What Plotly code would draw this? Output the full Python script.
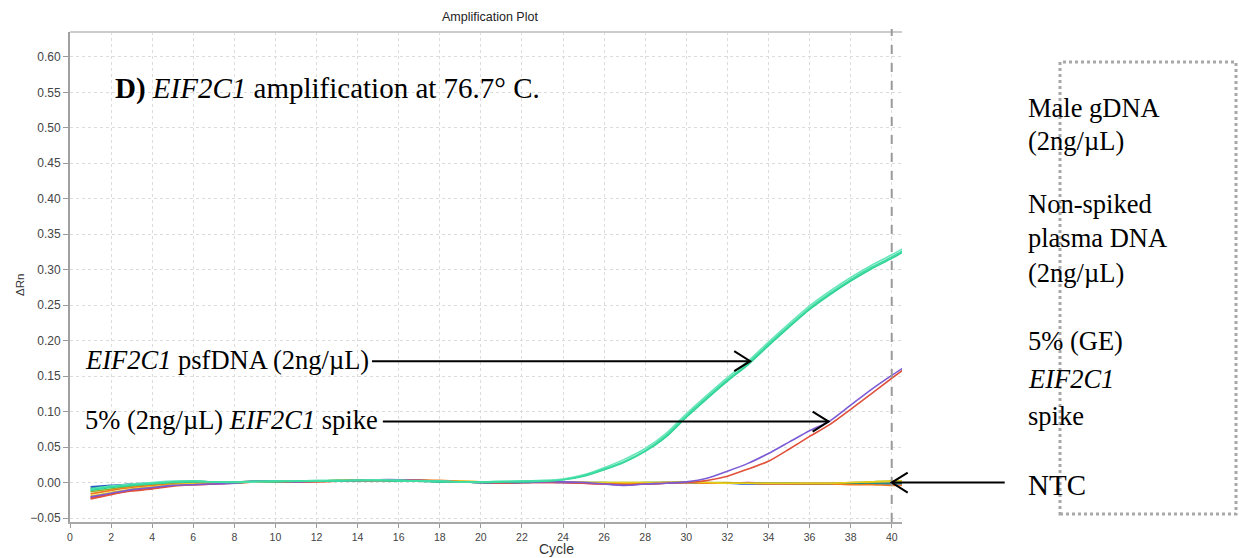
import numpy as np
import plotly.graph_objects as go

# ---- data: ΔRn per cycle (cycle 41 only trails past the right edge) ----
cycles = list(range(1, 42))

psfdna_rep1 = [-0.010, -0.006, -0.003, -0.001, 0.001, 0.002, 0.001, 0.001, 0.002, 0.002,
               0.002, 0.002, 0.003, 0.003, 0.003, 0.003, 0.002, 0.002, 0.001, 0.001,
               0.001, 0.002, 0.002, 0.004, 0.010, 0.019, 0.030, 0.045, 0.066, 0.094,
               0.120, 0.145, 0.168, 0.195, 0.221, 0.246, 0.267, 0.286, 0.303, 0.318, 0.334]
psfdna_rep2 = [-0.009, -0.005, -0.002, 0.000, 0.002, 0.002, 0.001, 0.001, 0.001, 0.002,
               0.002, 0.003, 0.003, 0.003, 0.004, 0.003, 0.002, 0.002, 0.001, 0.001,
               0.002, 0.002, 0.003, 0.005, 0.011, 0.021, 0.033, 0.048, 0.069, 0.097,
               0.123, 0.148, 0.171, 0.198, 0.224, 0.249, 0.270, 0.289, 0.306, 0.321, 0.337]
psfdna_rep3 = [-0.011, -0.007, -0.004, -0.002, 0.000, 0.001, 0.001, 0.000, 0.001, 0.001,
               0.002, 0.002, 0.002, 0.003, 0.003, 0.002, 0.002, 0.001, 0.001, 0.000,
               0.001, 0.001, 0.002, 0.004, 0.009, 0.018, 0.029, 0.044, 0.064, 0.092,
               0.118, 0.143, 0.166, 0.193, 0.219, 0.244, 0.265, 0.284, 0.301, 0.316, 0.332]

spike_rep1 = [-0.020, -0.015, -0.010, -0.007, -0.004, -0.003, -0.002, -0.001, 0.002, 0.002,
              0.001, 0.002, 0.002, 0.003, 0.004, 0.004, 0.003, 0.002, 0.001, 0.000,
              0.000, 0.000, 0.001, 0.001, 0.000, -0.002, -0.004, -0.002, -0.001, 0.001,
              0.006, 0.016, 0.027, 0.041, 0.057, 0.073, 0.087, 0.109, 0.131, 0.151, 0.170]
spike_rep2 = [-0.023, -0.017, -0.012, -0.009, -0.005, -0.003, -0.002, -0.001, 0.001, 0.001,
              0.001, 0.001, 0.002, 0.003, 0.003, 0.003, 0.003, 0.002, 0.001, 0.000,
              -0.001, 0.000, 0.000, 0.000, -0.001, -0.002, -0.003, -0.002, -0.001, 0.000,
              0.003, 0.009, 0.019, 0.030, 0.047, 0.065, 0.082, 0.103, 0.125, 0.147, 0.168]

flat_blue = [-0.006, -0.004, -0.002, -0.001, 0.000, 0.001, 0.001, 0.001, 0.001, 0.001,
             0.001, 0.002, 0.002, 0.003, 0.003, 0.003, 0.002, 0.002, 0.001, 0.000,
             0.000, 0.001, 0.001, 0.000, 0.000, -0.001, -0.001, -0.001, 0.000, 0.000,
             -0.001, -0.001, -0.002, -0.002, -0.002, -0.002, -0.002, -0.002, -0.002, -0.002, -0.002]
flat_teal = [-0.008, -0.005, -0.003, -0.001, 0.001, 0.002, 0.001, 0.001, 0.001, 0.001,
             0.002, 0.002, 0.002, 0.003, 0.003, 0.002, 0.002, 0.001, 0.001, 0.000,
             0.000, 0.000, 0.001, 0.001, 0.000, 0.000, -0.001, 0.000, 0.000, 0.000,
             -0.001, -0.001, -0.001, -0.001, -0.001, -0.002, -0.002, -0.002, -0.001, -0.001, -0.001]
flat_olive = [-0.013, -0.009, -0.005, -0.003, -0.001, 0.001, 0.000, 0.000, 0.001, 0.001,
              0.001, 0.002, 0.003, 0.004, 0.004, 0.004, 0.003, 0.002, 0.001, 0.001,
              0.000, 0.001, 0.001, 0.001, 0.000, 0.000, 0.000, 0.000, 0.000, 0.001,
              0.000, 0.000, -0.001, -0.001, -0.001, -0.001, -0.001, 0.000, 0.001, 0.002, 0.002]
flat_orange = [-0.016, -0.011, -0.007, -0.004, -0.002, -0.002, -0.001, 0.000, 0.001, 0.001,
               0.001, 0.002, 0.003, 0.004, 0.004, 0.004, 0.004, 0.003, 0.002, 0.001,
               0.000, 0.000, 0.001, 0.001, 0.000, -0.001, -0.001, -0.001, 0.000, 0.000,
               -0.001, -0.001, -0.001, -0.002, -0.002, -0.002, -0.002, -0.003, -0.003, -0.004, -0.004]
flat_yellow = [-0.019, -0.014, -0.009, -0.006, -0.003, -0.002, -0.001, 0.000, 0.001, 0.001,
               0.001, 0.002, 0.002, 0.003, 0.003, 0.003, 0.003, 0.002, 0.002, 0.001,
               0.000, 0.001, 0.001, 0.001, 0.000, 0.000, 0.000, 0.000, 0.000, 0.000,
               0.000, -0.001, -0.001, -0.001, -0.001, -0.001, -0.001, 0.000, 0.001, 0.002, 0.002]
flat_magenta = [-0.021, -0.016, -0.011, -0.008, -0.004, -0.003, -0.002, 0.000, 0.002, 0.002,
                0.002, 0.002, 0.002, 0.002, 0.003, 0.003, 0.002, 0.002, 0.001, 0.000,
                -0.001, 0.000, 0.000, 0.000, -0.001, -0.002, -0.003, -0.002, -0.001, 0.000,
                0.000, -0.001, 0.000, -0.001, -0.001, -0.001, -0.001, -0.001, -0.001, -0.001, -0.001]

x_ticks = list(range(0, 41, 2))
y_ticks = [-0.05, 0.00, 0.05, 0.10, 0.15, 0.20, 0.25, 0.30, 0.35, 0.40, 0.45, 0.50, 0.55, 0.60]

# ---- geometry ----
W, H = 1239, 558
ML, MR, MT, MB = 70, 337, 32, 36
X_RANGE = [0, 40.5]
Y_RANGE = [-0.0556, 0.635]
PLOT_W = W - ML - MR
PLOT_H = H - MT - MB


def px(x):
    """page pixel column -> paper x"""
    return (x - ML) / PLOT_W


def py(y):
    """page pixel row -> paper y"""
    return (H - MB - y) / PLOT_H


def xp(c):
    """cycle -> paper x"""
    return (c - X_RANGE[0]) / (X_RANGE[1] - X_RANGE[0])


def yp(v):
    """ΔRn -> paper y"""
    return (v - Y_RANGE[0]) / (Y_RANGE[1] - Y_RANGE[0])


fig = go.Figure()

series = [
    (flat_magenta, "#c2267f"),
    (flat_blue, "#2458c8"),
    (flat_teal, "#1f8f8a"),
    (flat_olive, "#8fb021"),
    (flat_orange, "#f07b1d"),
    (flat_yellow, "#e6cf1c"),
    (spike_rep2, "#e0503a"),
    (spike_rep1, "#7b5bd6"),
    (psfdna_rep3, "#2ccf94"),
    (psfdna_rep2, "#6ae6bc"),
    (psfdna_rep1, "#3ddca0"),
]
for vals, col in series:
    fig.add_trace(go.Scatter(x=cycles, y=vals, mode="lines",
                             line=dict(color=col, width=1.6, shape="spline", smoothing=0.6),
                             showlegend=False, hoverinfo="skip"))

axis_font = "Liberation Sans, Arial, sans-serif"
serif = "Liberation Serif, Times New Roman, serif"

fig.update_xaxes(range=X_RANGE, tickvals=x_ticks, ticks="outside", ticklen=4,
                 tickcolor="#9a9a9a", tickwidth=1, showline=True, linecolor="#a8a8a8",
                 linewidth=2, showgrid=True, gridcolor="#dcdcdc", griddash="dot",
                 gridwidth=1, zeroline=False,
                 tickfont=dict(family=axis_font, size=10.5, color="#444"))
fig.update_yaxes(range=Y_RANGE, tickvals=y_ticks, tickformat=".2f", ticks="outside",
                 ticklen=5, tickcolor="#9a9a9a", tickwidth=1, showline=True,
                 linecolor="#a0a0a0", linewidth=2, showgrid=True, gridcolor="#dcdcdc",
                 griddash="dot", gridwidth=1, zeroline=False,
                 tickfont=dict(family=axis_font, size=12, color="#444"))

shapes = []
# top frame line
shapes.append(dict(type="line", xref="paper", yref="paper", x0=0, x1=1, y0=1, y1=1,
                   line=dict(color="#cccccc", width=2)))
# cycle 40 marker line
shapes.append(dict(type="line", xref="paper", yref="paper", x0=xp(40), x1=xp(40),
                   y0=0, y1=py(29), line=dict(color="#9a9a9a", width=2, dash="dash")))
# dotted key frame on the right
shapes.append(dict(type="rect", xref="paper", yref="paper", x0=px(1060), x1=px(1236),
                   y0=py(514), y1=py(62), line=dict(color="#a8a8a8", width=3, dash="dot")))

# pointer arrows: (level, tail cycle, head cycle, direction)
psf_level = 0.171
spike_level = 0.086
psf_head = float(np.interp(psf_level, psfdna_rep1[26:36], cycles[26:36]))
spike_head = float(np.interp(spike_level, spike_rep1[31:39], cycles[31:39]))
arrows = [
    (psf_level, 14.7, psf_head, 1),
    (spike_level, 15.23, spike_head, 1),
    (0.0, 45.5, 40.0, -1),
]
for level, tail, head, d in arrows:
    shapes.append(dict(type="line", xref="paper", yref="paper",
                       x0=xp(tail), x1=xp(head), y0=yp(level), y1=yp(level),
                       line=dict(color="black", width=2)))
    shapes.append(dict(type="path", xref="paper", yref="paper",
                       xsizemode="pixel", ysizemode="pixel",
                       xanchor=xp(head), yanchor=yp(level),
                       path=f"M{-16 * d},10 L0,0 L{-16 * d},-10",
                       line=dict(color="black", width=2)))

annotations = [
    dict(text="Amplification Plot", x=px(490), y=py(17), xanchor="center", yanchor="middle",
         font=dict(family=axis_font, size=12.5, color="#222")),
    dict(text="ΔRn", x=px(20), y=py(285), xanchor="center", yanchor="middle", textangle=-90,
         font=dict(family=axis_font, size=11.5, color="#333")),
    dict(text="Cycle", x=px(556), y=py(549), xanchor="center", yanchor="middle",
         font=dict(family=axis_font, size=14, color="#333")),
    dict(text="<b>D)</b> <i>EIF2C1</i> amplification at 76.7° C.", x=px(113), y=py(98 - 10),
         xanchor="left", yanchor="middle", font=dict(family=serif, size=29, color="black")),
    dict(text="<i>EIF2C1</i> psfDNA (2ng/µL)", x=px(83), y=py(369 - 9),
         xanchor="left", yanchor="middle", font=dict(family=serif, size=26.5, color="black")),
    dict(text="5% (2ng/µL) <i>EIF2C1</i> spike", x=px(83), y=py(429 - 9),
         xanchor="left", yanchor="middle", font=dict(family=serif, size=26.5, color="black")),
]

key_lines = [
    ("Male gDNA", 116.7, 26.5),
    ("(2ng/µL)", 150.5, 26.5),
    ("Non-spiked", 212.7, 26.5),
    ("plasma DNA", 247.0, 26.5),
    ("(2ng/µL)", 281.7, 26.5),
    ("5% (GE)", 350.0, 26.5),
    ("<i>EIF2C1</i>", 388.3, 26.5),
    ("spike", 425.0, 26.5),
    ("NTC", 495.0, 29),
]
for txt, base, size in key_lines:
    annotations.append(dict(text=txt, x=px(1026), y=py(base - 0.34 * size),
                            xanchor="left", yanchor="middle",
                            font=dict(family=serif, size=size, color="black")))

for a in annotations:
    a.update(xref="paper", yref="paper", showarrow=False)

fig.update_layout(width=W, height=H, margin=dict(l=ML, r=MR, t=MT, b=MB, pad=0),
                  paper_bgcolor="white", plot_bgcolor="white",
                  shapes=shapes, annotations=annotations, showlegend=False)

fig.write_html("out.html")
